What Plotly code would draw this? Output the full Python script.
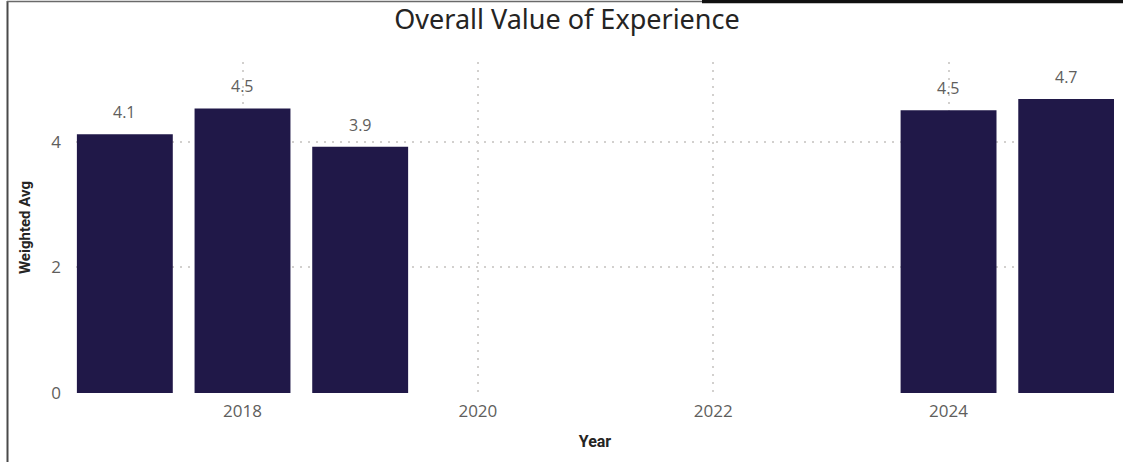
import plotly.graph_objects as go

# Data
years = [2017, 2018, 2019, 2024, 2025]
weighted_avg = [4.12, 4.53, 3.92, 4.50, 4.68]
x_ticks = [2018, 2020, 2022, 2024]
y_ticks = [0, 2, 4]

W, H = 1123, 462
ML, MR, MT, MB = 76, 9, 62, 69
PW, PH = W - ML - MR, H - MT - MB

def px_x(px):
    return (px - ML) / PW

def px_y(py):
    return (H - MB - py) / PH

BAR = "#201848"
TICK = "#605E5C"
DARK = "#252423"
GRID = "#D2D0CE"

fig = go.Figure()
fig.add_trace(go.Bar(
    x=years, y=weighted_avg, width=0.815,
    marker=dict(color=BAR, line=dict(width=0)),
    hoverinfo="skip",
))

for xv, yv in zip(years, weighted_avg):
    fig.add_annotation(
        x=xv, y=yv, xref="x", yref="y", text=f"{yv:.1f}",
        showarrow=False, yanchor="bottom", yshift=9,
        font=dict(family="Open Sans", size=16, color=TICK),
    )

# Frame lines
fig.add_shape(type="line", xref="paper", yref="paper",
              x0=px_x(7.5), x1=px_x(7.5), y0=px_y(1), y1=px_y(462),
              line=dict(color="#4A4A4A", width=2))
fig.add_shape(type="line", xref="paper", yref="paper",
              x0=px_x(7), x1=px_x(702), y0=px_y(1.5), y1=px_y(1.5),
              line=dict(color="#6A6A6A", width=1.5))
fig.add_shape(type="line", xref="paper", yref="paper",
              x0=px_x(702), x1=px_x(1123), y0=px_y(1.5), y1=px_y(1.5),
              line=dict(color="#111111", width=3.5))

fig.update_layout(
    width=W, height=H,
    margin=dict(l=ML, r=MR, t=MT, b=MB, autoexpand=False),
    paper_bgcolor="white", plot_bgcolor="white",
    showlegend=False,
    title=dict(text="Overall Value of Experience", x=567 / W, xref="container",
               xanchor="center", y=1 - 20 / H, yref="container", yanchor="middle",
               font=dict(family="Noto Sans", size=27, color=DARK)),
    xaxis=dict(
        range=[2016.585, 2025.406], tickvals=x_ticks,
        ticktext=[str(t) for t in x_ticks],
        showgrid=True, gridcolor=GRID, griddash="2px,6px", gridwidth=1.5,
        zeroline=False, showline=False, ticks="",
        ticklabelstandoff=6,
        tickfont=dict(family="Open Sans", size=17, color=TICK),
        title=dict(text="<b>Year</b>", standoff=14,
                   font=dict(family="Roboto", size=16, color=DARK)),
    ),
    yaxis=dict(
        range=[0, 5.27], tickvals=y_ticks,
        showgrid=True, gridcolor=GRID, griddash="2px,6px", gridwidth=1.5,
        zeroline=False, showline=False, ticks="",
        ticklabelstandoff=14,
        tickfont=dict(family="Open Sans", size=17, color=TICK),
        title=dict(text="<b>Weighted Avg</b>", standoff=17,
                   font=dict(family="Roboto", size=15, color=DARK)),
    ),
    bargap=0.2,
)

fig.write_html("out.html", config={"displayModeBar": False},
               post_script="document.body.style.margin='0px';")
